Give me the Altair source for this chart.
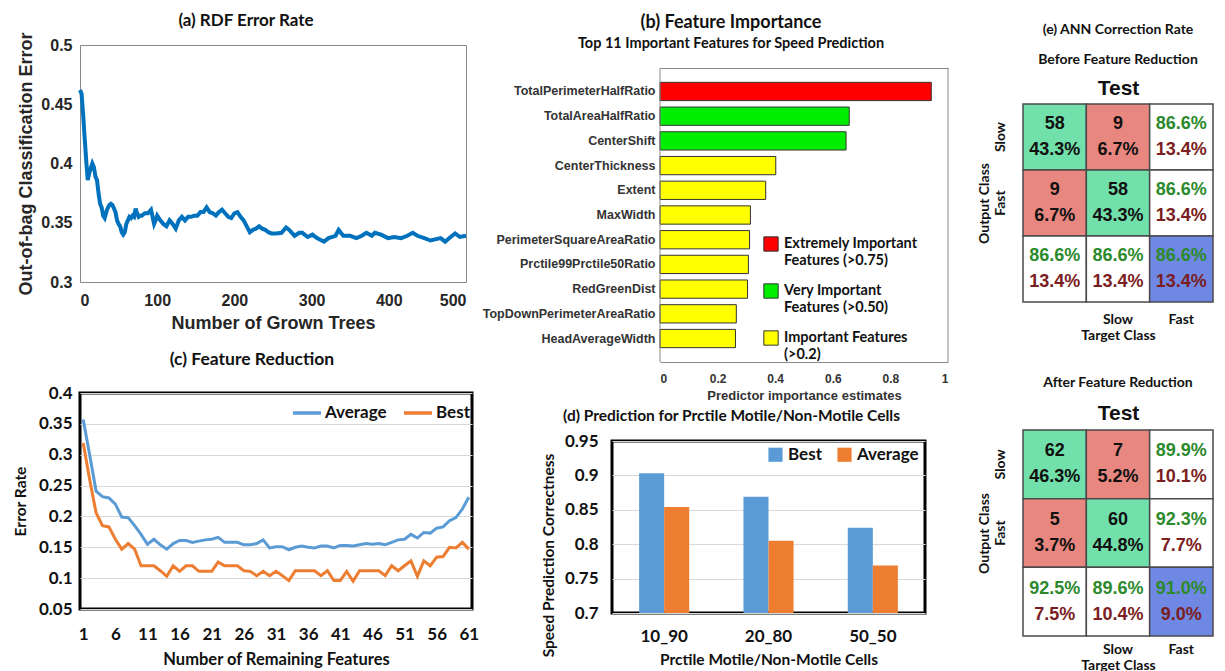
import altair as alt
import pandas as pd

# ---------------- (a) RDF out-of-bag error ----------------
a_trees = [0, 2, 4, 6, 8, 10, 12, 14, 16, 18, 20, 22, 24, 26, 28, 30, 32, 35, 38, 40,
           42, 44, 46, 48, 50, 52, 54, 56, 58, 60, 62, 64, 66, 68, 70, 72, 74, 76, 78, 80,
           84, 88, 92, 94, 96, 98, 100, 104, 108, 112, 116, 120, 124, 128, 132, 136, 140, 144, 148, 152,
           156, 160, 164, 168, 172, 176, 180, 184, 188, 192, 196, 200, 204, 208, 212, 216, 220, 224, 228, 232,
           236, 240, 244, 248, 254, 261, 267, 271, 278, 284, 288, 295, 301, 307, 316, 322, 331, 335, 341, 350,
           358, 365, 371, 378, 382, 390, 399, 407, 416, 424, 431, 437, 446, 454, 460, 467, 473, 480, 486, 492, 500]
a_error = [0.462, 0.459, 0.442, 0.422, 0.403, 0.386, 0.392, 0.396, 0.400, 0.397, 0.389, 0.386, 0.375, 0.366, 0.363, 0.356, 0.354, 0.361, 0.365, 0.366,
           0.365, 0.362, 0.359, 0.352, 0.349, 0.347, 0.342, 0.340, 0.342, 0.349, 0.352, 0.355, 0.354, 0.356, 0.355, 0.362, 0.358, 0.355, 0.356, 0.356,
           0.358, 0.358, 0.361, 0.355, 0.349, 0.352, 0.356, 0.352, 0.349, 0.347, 0.352, 0.349, 0.345, 0.352, 0.355, 0.352, 0.355, 0.355, 0.356, 0.356,
           0.359, 0.359, 0.363, 0.359, 0.358, 0.356, 0.359, 0.361, 0.358, 0.355, 0.354, 0.358, 0.359, 0.355, 0.352, 0.347, 0.342, 0.344, 0.345, 0.347,
           0.345, 0.344, 0.342, 0.341, 0.341, 0.3415, 0.346, 0.344, 0.339, 0.3415, 0.3415, 0.338, 0.340, 0.337, 0.334, 0.337, 0.339, 0.344, 0.339, 0.339,
           0.337, 0.339, 0.3415, 0.339, 0.3415, 0.340, 0.337, 0.338, 0.337, 0.339, 0.3415, 0.339, 0.337, 0.335, 0.336, 0.337, 0.334, 0.338, 0.341, 0.338, 0.339]

# ---------------- (b) feature importance ----------------
b_features = ["TotalPerimeterHalfRatio", "TotalAreaHalfRatio", "CenterShift", "CenterThickness",
              "Extent", "MaxWidth", "PerimeterSquareAreaRatio", "Prctile99Prctile50Ratio",
              "RedGreenDist", "TopDownPerimeterAreaRatio", "HeadAverageWidth"]
b_importance = [0.942, 0.657, 0.646, 0.402, 0.367, 0.314, 0.311, 0.307, 0.304, 0.265, 0.262]
b_levels = ["Extremely Important|Features (>0.75)", "Very Important|Features (>0.50)",
            "Important Features|(>0.2)"]
b_level_colors = ["#FF0000", "#00EE00", "#FFFF00"]
b_axis_edges = [0, 1]

# ---------------- (c) feature reduction ----------------
c_features = list(range(1, 62))
c_average = [0.357, 0.300, 0.241, 0.232, 0.230, 0.220, 0.199, 0.198, 0.185, 0.171,
             0.155, 0.163, 0.154, 0.147, 0.156, 0.161, 0.161, 0.158, 0.160, 0.162,
             0.163, 0.166, 0.158, 0.158, 0.158, 0.154, 0.154, 0.156, 0.162, 0.149,
             0.151, 0.151, 0.146, 0.150, 0.152, 0.150, 0.149, 0.152, 0.152, 0.149,
             0.153, 0.153, 0.152, 0.154, 0.156, 0.155, 0.156, 0.154, 0.158, 0.162,
             0.163, 0.171, 0.165, 0.174, 0.173, 0.181, 0.183, 0.193, 0.198, 0.212, 0.231]
c_best = [0.319, 0.260, 0.206, 0.185, 0.183, 0.163, 0.147, 0.156, 0.147, 0.120,
          0.120, 0.120, 0.112, 0.103, 0.120, 0.111, 0.120, 0.120, 0.111, 0.111,
          0.111, 0.126, 0.120, 0.120, 0.120, 0.112, 0.111, 0.104, 0.111, 0.104,
          0.111, 0.104, 0.096, 0.112, 0.112, 0.112, 0.112, 0.104, 0.112, 0.096,
          0.096, 0.111, 0.095, 0.112, 0.112, 0.112, 0.112, 0.104, 0.120, 0.112,
          0.120, 0.128, 0.103, 0.128, 0.120, 0.134, 0.135, 0.150, 0.149, 0.158, 0.147]
c_series = ["Average", "Best"]
c_ticks = [1, 6, 11, 16, 21, 26, 31, 36, 41, 46, 51, 56, 61]
c_yticks = [0.05, 0.1, 0.15, 0.2, 0.25, 0.3, 0.35, 0.4]

# ---------------- (d) prediction by percentile split ----------------
d_groups = ["10_90", "20_80", "50_50"]
d_best = [0.903, 0.869, 0.824]
d_average = [0.854, 0.805, 0.769]
d_series = ["Best", "Average"]
d_yticks = [0.7, 0.75, 0.8, 0.85, 0.9, 0.95]

# ---------------- (e) confusion matrices ----------------
e_classes = ["Slow", "Fast", "Summary"]
before_line1 = ["58", "9", "86.6%", "9", "58", "86.6%", "86.6%", "86.6%", "86.6%"]
before_line2 = ["43.3%", "6.7%", "13.4%", "6.7%", "43.3%", "13.4%", "13.4%", "13.4%", "13.4%"]
after_line1 = ["62", "7", "89.9%", "5", "60", "92.3%", "92.5%", "89.6%", "91.0%"]
after_line2 = ["46.3%", "5.2%", "10.1%", "3.7%", "44.8%", "7.7%", "7.5%", "10.4%", "9.0%"]
e_kinds = ["correct", "wrong", "summary", "overall"]
e_fill = ["#72E0AA", "#E8877F", "#FFFFFF", "#6F88E4"]
e_line1_color = ["#111111", "#111111", "#2C8A2C", "#2C8A2C"]
e_line2_color = ["#111111", "#111111", "#7A1E22", "#7A1E22"]

LATO = "Lato"
ARIAL = "Liberation Sans"
FRAME = "#8a8a8a"

# ---------------- chart (a) ----------------
df_a = pd.DataFrame({"trees": a_trees, "error": a_error})
chart_a = alt.Chart(df_a).mark_line(color="#0072BD", strokeWidth=4).encode(
    x=alt.X("trees:Q", scale=alt.Scale(domain=[0, 500], nice=False),
            axis=alt.Axis(title="Number of Grown Trees", values=[0, 100, 200, 300, 400, 500],
                          grid=False, domain=False, ticks=False, labelFont=ARIAL, labelFontSize=16,
                          labelFontWeight="bold", labelColor="#262626", labelPadding=10,
                          titleFont=ARIAL, titleFontSize=18, titleFontWeight="bold",
                          titleColor="#262626", titlePadding=6)),
    y=alt.Y("error:Q", scale=alt.Scale(domain=[0.3, 0.5], nice=False, zero=False),
            axis=alt.Axis(title="Out-of-bag Classification Error", values=[0.3, 0.35, 0.4, 0.45, 0.5],
                          format="~g", grid=False, domain=False, ticks=False, labelFont=ARIAL,
                          labelFontSize=16, labelFontWeight="bold", labelColor="#262626",
                          labelPadding=8, titleFont=ARIAL, titleFontSize=18, titleFontWeight="bold",
                          titleColor="#262626", titlePadding=5)),
).properties(
    width=386, height=237,
    title=alt.TitleParams("(a) RDF Error Rate", font=LATO, fontSize=17, fontWeight="bold",
                          color="#111111", frame="group", dx=-27, offset=2),
    view=alt.ViewBackground(stroke=FRAME, strokeWidth=1),
)

# ---------------- chart (b) ----------------
def level_of(v):
    if v > 0.75:
        return b_levels[0]
    if v > 0.5:
        return b_levels[1]
    return b_levels[2]

df_b = pd.DataFrame({"feature": b_features, "importance": b_importance,
                     "level": [level_of(v) for v in b_importance]})
b_xscale = alt.Scale(domain=[0, 1], nice=False, range=[48, 336])
b_bars = alt.Chart(df_b).mark_bar(stroke="#333333", strokeWidth=1).encode(
    y=alt.Y("feature:N", sort=b_features,
            scale=alt.Scale(paddingInner=0.26, paddingOuter=0.58),
            axis=alt.Axis(title=None, labelFont=ARIAL, labelFontSize=12.5, labelFontWeight="bold",
                          labelColor="#333333", ticks=False, domain=False, labelPadding=-43,
                          labelLimit=400)),
    x=alt.X("importance:Q", scale=b_xscale,
            axis=alt.Axis(title="Predictor importance estimates", values=[0, 0.2, 0.4, 0.6, 0.8, 1],
                          format="~g", grid=False, domain=True, domainColor=FRAME, domainWidth=1,
                          ticks=False, labelFont=ARIAL,
                          labelFontSize=12, labelFontWeight="bold", labelColor="#333333",
                          labelPadding=11, titleFont=ARIAL, titleFontSize=13, titleFontWeight="bold",
                          titleColor="#333333", titlePadding=5)),
    color=alt.Color("level:N", scale=alt.Scale(domain=b_levels, range=b_level_colors),
                    legend=alt.Legend(orient="none", legendX=151, legendY=168, title=None,
                                      labelExpr="split(datum.label, '|')", symbolType="square",
                                      symbolSize=205, symbolStrokeColor="#333333",
                                      symbolStrokeWidth=1, symbolOpacity=1, labelFont=LATO,
                                      labelFontSize=14.5, labelFontWeight="bold",
                                      labelColor="#111111", rowPadding=14, labelLimit=300,
                                      labelOffset=5, padding=0, direction="vertical")),
)
b_edges = alt.Chart(pd.DataFrame({"edge": b_axis_edges})).mark_rule(
    color=FRAME, strokeWidth=1).encode(
    x=alt.X("edge:Q", scale=b_xscale,
            axis=alt.Axis(orient="top", title=None, labels=False, ticks=False, grid=False,
                          domain=True, domainColor=FRAME, domainWidth=1)),
)
chart_b = alt.layer(b_bars, b_edges).resolve_axis(x="independent").properties(
    width=336, height=294,
    title=alt.TitleParams("(b) Feature Importance",
                          subtitle="Top 11 Important Features for Speed Prediction",
                          font=LATO, fontSize=18, fontWeight="bold", color="#111111",
                          subtitleFont=LATO, subtitleFontSize=14.5, subtitleFontWeight="bold",
                          subtitleColor="#111111", subtitlePadding=5, frame="group", dx=-49,
                          offset=17),
    view=alt.ViewBackground(strokeWidth=0),
)

# ---------------- chart (c) ----------------
df_c = pd.DataFrame({
    "n": c_features * 2,
    "rate": c_average + c_best,
    "series": [c_series[0]] * len(c_features) + [c_series[1]] * len(c_features),
})
chart_c = alt.Chart(df_c).mark_line(strokeWidth=3).encode(
    x=alt.X("n:Q", scale=alt.Scale(domain=[0.5, 61.5], nice=False),
            axis=alt.Axis(title="Number of Remaining Features", values=c_ticks, grid=False,
                          domain=False, ticks=False, labelFont=LATO, labelFontSize=17,
                          labelFontWeight="bold", labelColor="#111111", labelPadding=17,
                          titleFont=LATO, titleFontSize=16.5, titleFontWeight="bold",
                          titleColor="#111111", titlePadding=9)),
    y=alt.Y("rate:Q", scale=alt.Scale(domain=[0.05, 0.4], nice=False, zero=False),
            axis=alt.Axis(title="Error Rate", values=c_yticks, format="~g", grid=True,
                          gridColor="#D9D9D9", gridWidth=1.2, domain=False, ticks=False,
                          labelFont=LATO, labelFontSize=17, labelFontWeight="bold",
                          labelColor="#111111", labelPadding=8, titleFont=LATO,
                          titleFontSize=15.5, titleFontWeight="bold", titleColor="#111111",
                          titlePadding=10)),
    color=alt.Color("series:N", scale=alt.Scale(domain=c_series, range=["#5B9BD5", "#ED7D31"]),
                    legend=alt.Legend(orient="none", legendX=211, legendY=4, direction="horizontal",
                                      title=None, symbolType="stroke", symbolSize=784,
                                      symbolStrokeWidth=3.5, labelFont=LATO, labelFontSize=17,
                                      labelFontWeight="bold", labelColor="#111111",
                                      columnPadding=10, labelOffset=2, padding=0)),
).properties(
    width=392, height=216,
    title=alt.TitleParams("(c) Feature Reduction", font=LATO, fontSize=17.5, fontWeight="bold",
                          color="#111111", frame="group", dx=-24, offset=16),
    view=alt.ViewBackground(stroke="#000000", strokeWidth=3),
)

# ---------------- chart (d) ----------------
df_d = pd.DataFrame({
    "group": d_groups * 2,
    "series": [d_series[0]] * 3 + [d_series[1]] * 3,
    "value": d_best + d_average,
})
chart_d = alt.Chart(df_d).mark_bar().encode(
    x=alt.X("group:N", sort=d_groups, scale=alt.Scale(paddingInner=0.52, paddingOuter=0.26),
            axis=alt.Axis(title="Prctile Motile/Non-Motile Cells", labelAngle=0, domain=False,
                          ticks=False, labelFont=LATO, labelFontSize=17, labelFontWeight="bold",
                          labelColor="#111111", labelPadding=15, titleFont=LATO, titleFontSize=15.5,
                          titleFontWeight="bold", titleColor="#111111", titlePadding=8)),
    xOffset=alt.XOffset("series:N", sort=d_series),
    y=alt.Y("value:Q", scale=alt.Scale(domain=[0.7, 0.95], nice=False, zero=False),
            axis=alt.Axis(title="Speed Prediction Correctness", values=d_yticks, format="~g",
                          grid=True, gridColor="#D9D9D9", gridWidth=1.2, domain=False,
                          ticks=False, labelPadding=14, titleX=-56, titleY=114,
                          labelFont=LATO, labelFontSize=17, labelFontWeight="bold",
                          labelColor="#111111", titleFont=LATO, titleFontSize=15.5,
                          titleFontWeight="bold", titleColor="#111111")),
    y2=alt.datum(0.7),
    color=alt.Color("series:N", scale=alt.Scale(domain=d_series, range=["#5B9BD5", "#ED7D31"]),
                    legend=alt.Legend(orient="none", legendX=155, legendY=5, direction="horizontal",
                                      title=None, symbolType="square", symbolSize=200,
                                      symbolOpacity=1, labelFont=LATO, labelFontSize=17,
                                      labelFontWeight="bold", labelColor="#111111",
                                      columnPadding=14, labelOffset=4, padding=0)),
).properties(
    width=313, height=172,
    title=alt.TitleParams("(d) Prediction for Prctile Motile/Non-Motile Cells", font=LATO,
                          fontSize=15.5, fontWeight="bold", color="#111111", frame="group",
                          dx=-37, offset=8),
    view=alt.ViewBackground(stroke="#000000", strokeWidth=3),
)

# ---------------- chart (e) ----------------
def matrix_df(line1, line2):
    recs = []
    for k in range(9):
        i, j = divmod(k, 3)
        if i < 2 and j < 2:
            kind = "correct" if i == j else "wrong"
        elif i == 2 and j == 2:
            kind = "overall"
        else:
            kind = "summary"
        recs.append({"out": e_classes[i], "target": e_classes[j],
                     "l1": line1[k], "l2": line2[k], "kind": kind})
    return pd.DataFrame(recs)


def matrix_chart(df, title_params, w, h, lp, test_pad):
    xscale = alt.Scale(domain=e_classes)
    xenc = alt.X("target:N", sort=e_classes, scale=xscale,
                 axis=alt.Axis(title="Target Class", values=["Slow", "Fast"], labelOffset=w / 3,
                               labelAngle=0, ticks=False, domain=False, labelFont=LATO,
                               labelFontSize=14, labelFontWeight="bold", labelColor="#111111",
                               labelPadding=lp, titleFont=LATO, titleFontSize=14,
                               titleFontWeight="bold", titleColor="#111111", titlePadding=2))
    yenc = alt.Y("out:N", sort=e_classes, scale=alt.Scale(domain=e_classes),
                 axis=alt.Axis(title="Output Class", values=["Slow", "Fast"], labelAngle=270,
                               labelAlign="center", labelBaseline="bottom", ticks=False,
                               domain=False, labelFont=LATO, labelFontSize=14,
                               labelFontWeight="bold", labelColor="#111111", labelPadding=16,
                               titleFont=LATO, titleFontSize=14, titleFontWeight="bold",
                               titleColor="#111111", titlePadding=2))
    base = alt.Chart(df)
    rect = base.mark_rect(stroke="#4a4a4a", strokeWidth=1.5).encode(
        x=xenc, y=yenc,
        color=alt.Color("kind:N", scale=alt.Scale(domain=e_kinds, range=e_fill), legend=None))
    t1 = base.mark_text(dy=-13, font=ARIAL, fontSize=18, fontWeight="bold").encode(
        x=alt.X("target:N", sort=e_classes, scale=xscale,
                axis=alt.Axis(orient="top", title="Test", labels=False, ticks=False, domain=False,
                              grid=False, titleFont=ARIAL, titleFontSize=21,
                              titleFontWeight="bold", titleColor="#111111",
                              titlePadding=test_pad)),
        y=alt.Y("out:N", sort=e_classes), text="l1:N",
        color=alt.Color("kind:N", scale=alt.Scale(domain=e_kinds, range=e_line1_color),
                        legend=None))
    t2 = base.mark_text(dy=13, font=ARIAL, fontSize=18, fontWeight="bold").encode(
        x=alt.X("target:N", sort=e_classes, scale=xscale, axis=None),
        y=alt.Y("out:N", sort=e_classes), text="l2:N",
        color=alt.Color("kind:N", scale=alt.Scale(domain=e_kinds, range=e_line2_color),
                        legend=None))
    return alt.layer(rect, t1, t2).resolve_scale(color="independent").resolve_axis(
        x="independent").properties(
        width=w, height=h, title=title_params, view=alt.ViewBackground(strokeWidth=0))


chart_e1 = matrix_chart(
    matrix_df(before_line1, before_line2),
    alt.TitleParams("(e) ANN Correction Rate", subtitle="Before Feature Reduction", font=LATO,
                    fontSize=14, fontWeight="bold", color="#111111", subtitleFont=LATO,
                    subtitleFontSize=14, subtitleFontWeight="bold", subtitleColor="#111111",
                    subtitlePadding=16, offset=10, frame="group"),
    190, 198, 10, 6)
chart_e2 = matrix_chart(
    matrix_df(after_line1, after_line2),
    alt.TitleParams("After Feature Reduction", font=LATO, fontSize=14, fontWeight="bold",
                    color="#111111", offset=12, frame="group"),
    190, 206, 6, 7)


def indep(c):
    return c.resolve_scale(color="independent").resolve_legend(color="independent")


def top_spacer():
    # empty 1px view: gives every column the same top anchor
    return alt.Chart(pd.DataFrame({"v": [0]})).mark_point(opacity=0, size=1).encode(
        x=alt.value(0), y=alt.value(0)).properties(
        width=1, height=1, view=alt.ViewBackground(strokeWidth=0))


col1 = indep(alt.vconcat(top_spacer(), indep(alt.vconcat(chart_a, chart_c, spacing=16)),
                         spacing=1))
col2 = indep(alt.vconcat(top_spacer(), indep(alt.vconcat(chart_b, chart_d, spacing=5)),
                         spacing=4))
col3 = indep(alt.vconcat(top_spacer(), indep(alt.vconcat(chart_e1, chart_e2, spacing=34)),
                         spacing=13))
left = indep(alt.hconcat(col1, col2, spacing=1))
chart = indep(alt.hconcat(left, col3, spacing=27)).properties(
    padding={"left": 3, "top": 0, "right": 0, "bottom": 0}
)

chart.save("out.html", embed_options={"renderer": "svg", "actions": False})
